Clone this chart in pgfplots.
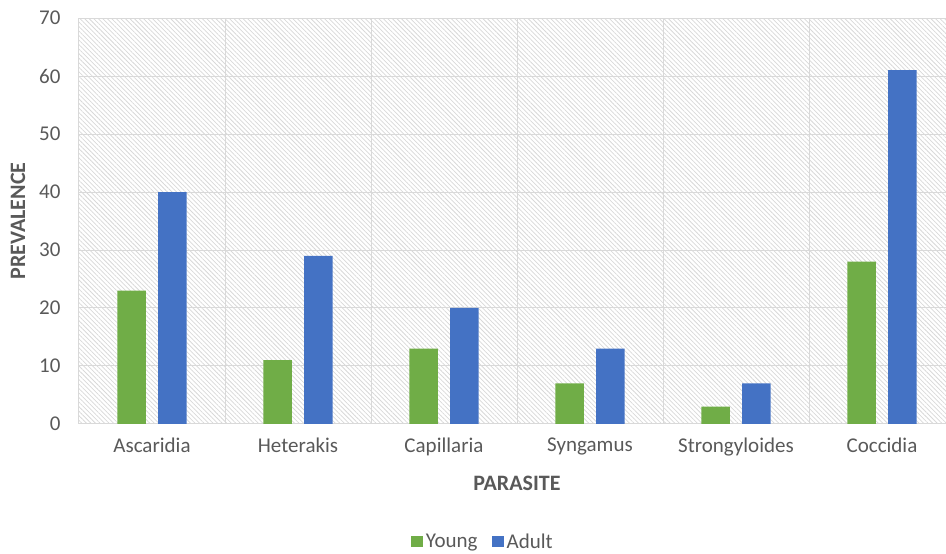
\documentclass[border=0pt]{standalone}
\usepackage{pgfplots}
\pgfplotsset{compat=1.18}
\usepackage{fontspec}
\setmainfont{Carlito}
\usetikzlibrary{patterns.meta}
\definecolor{young}{HTML}{70AD47}
\definecolor{adult}{HTML}{4472C4}
\definecolor{txt}{HTML}{595959}
\definecolor{gridc}{HTML}{D9D9D9}
\definecolor{hatch}{HTML}{D8D8D8}

\begin{document}
\begin{tikzpicture}[x=1pt,y=1pt]
\useasboundingbox (0,0) rectangle (946,554);
\clip (0,0) rectangle (946,554);
\begin{axis}[
  at={(79pt,130pt)}, anchor=south west,
  width=876pt, height=406pt, scale only axis,
  ybar, bar width=0.195,
  xmin=-0.5, xmax=5.5, ymin=0, ymax=70,
  xtick={0,...,5},
  xticklabels={Ascaridia,Heterakis,Capillaria,Syngamus,Strongyloides,Coccidia},
  minor xtick={-0.5,0.5,...,5.5},
  ytick={0,10,...,70},
  xminorgrids, ymajorgrids,
  grid style={gridc, line width=1pt},
  minor grid style={gridc, line width=1pt},
  axis line style={draw=none},
  major tick length=0pt, minor tick length=0pt,
  tick label style={font=\fontsize{21}{25}\selectfont, text=txt},
  xticklabel style={yshift=-10pt},
  yticklabel style={xshift=-15pt},
  /pgf/number format/assume math mode=true,
  xlabel={PARASITE}, ylabel={PREVALENCE},
  label style={font=\bfseries\fontsize{22}{26}\selectfont, text=txt},
  xlabel style={at={(axis description cs:0.5,0)}, anchor=center, yshift=-59pt},
  ylabel style={at={(axis description cs:0,0.5)}, anchor=center, yshift=61pt},
  axis background/.style={pattern={Lines[angle=-45,distance=3.2pt,line width=0.75pt]}, pattern color=hatch},
  legend style={at={(axis description cs:0.461,-0.29)}, anchor=center, draw=none, fill=none,
    font=\fontsize{21}{25}\selectfont, text=txt, inner sep=0pt,
    /tikz/every odd column/.append style={column sep=1pt},
    /tikz/every even column/.append style={column sep=12pt}},
  legend columns=2,
  legend image code/.code={\path[#1] (0pt,-5.5pt) rectangle (12pt,5.5pt);},
]
\addplot[fill=young, draw=none, bar shift=-0.14] coordinates {(0,23) (1,11) (2,13) (3,7) (4,3) (5,28)};
\addplot[fill=adult, draw=none, bar shift=0.14] coordinates {(0,40) (1,29) (2,20) (3,13) (4,7) (5,61)};
\legend{Young, Adult}
\end{axis}
\end{tikzpicture}
\end{document}
